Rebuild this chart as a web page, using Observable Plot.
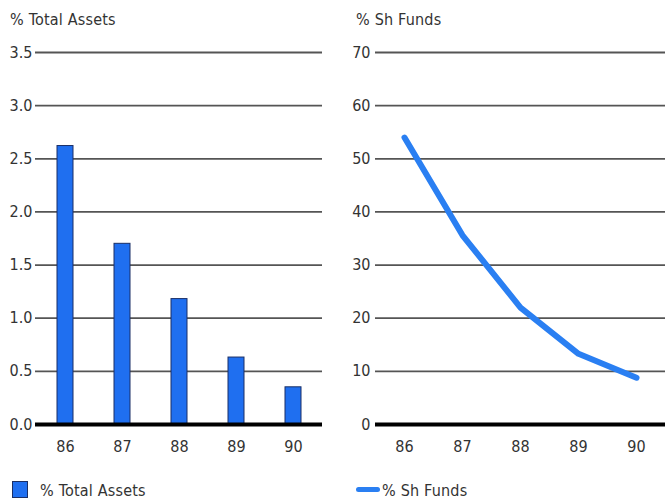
<!DOCTYPE html>
<html>
<head>
<meta charset="utf-8">
<script src="https://cdn.jsdelivr.net/npm/d3@7"></script>
<script src="https://cdn.jsdelivr.net/npm/@observablehq/plot@0.6"></script>
<style>
  html, body { margin: 0; padding: 0; background: #fff; }
  body { width: 665px; height: 500px; position: relative; overflow: hidden;
         font-family: "DejaVu Sans Condensed", sans-serif; color: #333; }
  .title { position: absolute; top: 10px; font-size: 16px; line-height: 20px; letter-spacing: 0.2px; }
  .panel { position: absolute; top: 38px; }
  .legend { position: absolute; top: 479px; font-size: 16px; line-height: 20px; letter-spacing: 0.2px; display: flex; align-items: center; }
  .legend span { position: relative; top: 2px; }
  .swatch { width: 14px; height: 15px; background: #1f6ff0; border: 1px solid #1a2f66; margin-right: 12px; }
  .lineswatch { width: 24px; height: 5px; background: #2a7ff2; border-radius: 3px; margin-right: 2px; }
  svg text { fill: #333; }
</style>
</head>
<body>
<div class="title" style="left:10px">% Total Assets</div>
<div class="title" style="left:356px">% Sh Funds</div>
<div class="panel" id="left" style="left:0px"></div>
<div class="panel" id="right" style="left:330px"></div>
<div class="legend" style="left:12px"><div class="swatch"></div><span>% Total Assets</span></div>
<div class="legend" style="left:356px"><div class="lineswatch"></div><span>% Sh Funds</span></div>
<script>
// Years shown on both panels
const years = ["86", "87", "88", "89", "90"];
// Bar series: percentage of total assets
const totalAssets = [2.62, 1.70, 1.18, 0.63, 0.35];
// Line series: percentage of shareholders' funds
const shFunds = [54, 35.6, 22, 13.3, 8.8];
// Gridline ticks for each panel
const assetTicks = [0, 0.5, 1.0, 1.5, 2.0, 2.5, 3.0, 3.5];
const fundTicks = [0, 10, 20, 30, 40, 50, 60, 70];

const assetRows = years.map((year, i) => ({year, value: totalAssets[i]}));
const fundRows = years.map((year, i) => ({year, value: shFunds[i]}));

const fontStyle = {fontFamily: "DejaVu Sans Condensed, sans-serif", fontSize: "16px", background: "transparent", color: "#333"};

const left = Plot.plot({
  width: 332,
  height: 430,
  marginTop: 14,
  marginBottom: 44,
  marginLeft: 35,
  marginRight: 10,
  style: fontStyle,
  x: {type: "band", domain: years, paddingInner: 0.72, paddingOuter: 0.36, label: null},
  y: {domain: [0, 3.5], label: null},
  marks: [
    Plot.ruleY(assetTicks.filter(d => d > 0), {stroke: "#555", strokeWidth: 1.8}),
    Plot.barY(assetRows, {x: "year", y: "value", fill: "#1f6ff0", stroke: "#1a2f66", strokeWidth: 1}),
    Plot.ruleY([0], {stroke: "#000", strokeWidth: 4}),
    Plot.axisY({ticks: assetTicks, tickFormat: d3.format(".1f"), tickSize: 0, tickPadding: 3, label: null}),
    Plot.axisX({tickSize: 0, tickPadding: 16, label: null})
  ]
});
document.getElementById("left").append(left);

const right = Plot.plot({
  width: 335,
  height: 430,
  marginTop: 14,
  marginBottom: 44,
  marginLeft: 45,
  marginRight: 0,
  style: fontStyle,
  x: {type: "point", domain: years, padding: 0.5, label: null},
  y: {domain: [0, 70], label: null},
  marks: [
    Plot.ruleY(fundTicks.filter(d => d > 0), {stroke: "#555", strokeWidth: 1.8}),
    Plot.ruleY([0], {stroke: "#000", strokeWidth: 4}),
    Plot.lineY(fundRows, {x: "year", y: "value", stroke: "#2a7ff2", strokeWidth: 6, strokeLinecap: "round", strokeLinejoin: "round"}),
    Plot.axisY({ticks: fundTicks, tickSize: 0, tickPadding: 5, label: null}),
    Plot.axisX({tickSize: 0, tickPadding: 16, label: null})
  ]
});
document.getElementById("right").append(right);
</script>
</body>
</html>
